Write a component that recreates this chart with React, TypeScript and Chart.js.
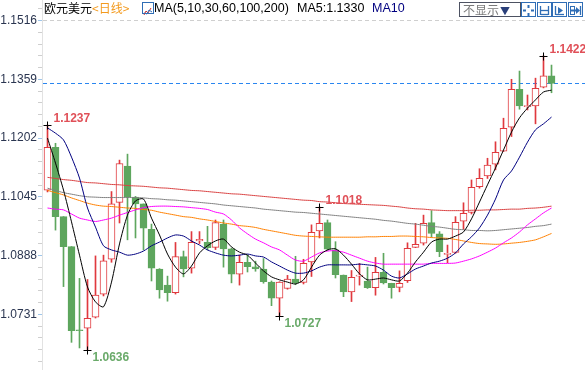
import React, { useEffect, useRef } from 'react';
import { Chart, registerables } from 'chart.js';

Chart.register(...registerables);

const opens = [1.1063,1.1177,1.0992,1.0912,1.0688,1.0694,1.0723,1.0785,1.0878,1.1030,1.1127,1.1044,1.1026,1.0958,1.0852,1.0809,1.0789,1.0885,1.0854,1.0927,1.0923,1.0910,1.0972,1.0906,1.0838,1.0870,1.0858,1.0852,1.0817,1.0774,1.0800,1.0825,1.0816,1.0871,1.0954,1.0976,1.0903,1.0836,1.0791,1.0833,1.0820,1.0802,1.0843,1.0814,1.0803,1.0821,1.0910,1.0921,1.0976,1.0946,1.0891,1.0896,1.0980,1.1003,1.1072,1.1101,1.1132,1.1167,1.1231,1.1332,1.1286,1.1288,1.1338,1.1368];
const highs = [1.1237,1.1188,1.0992,1.0912,1.0827,1.0824,1.0887,1.0889,1.1059,1.1143,1.1159,1.1046,1.1026,1.0972,1.0853,1.0833,1.0923,1.0900,1.0952,1.0952,1.0966,1.0983,1.0983,1.0908,1.0889,1.0889,1.0873,1.0880,1.0820,1.0818,1.0835,1.0886,1.0878,1.0970,1.1018,1.0983,1.0925,1.0836,1.0848,1.0867,1.0857,1.0883,1.0894,1.0814,1.0847,1.0922,1.0974,1.0996,1.1008,1.0952,1.0916,1.0992,1.1029,1.1090,1.1120,1.1148,1.1192,1.1255,1.1359,1.1381,1.1317,1.1362,1.1422,1.1397];
const lows = [1.1058,1.0956,1.0805,1.0656,1.0641,1.0636,1.0721,1.0780,1.0870,1.0975,1.0930,1.0935,1.0903,1.0820,1.0774,1.0766,1.0785,1.0831,1.0841,1.0920,1.0903,1.0904,1.0857,1.0815,1.0809,1.0844,1.0846,1.0814,1.0754,1.0727,1.0798,1.0810,1.0812,1.0832,1.0935,1.0902,1.0828,1.0778,1.0765,1.0809,1.0800,1.0782,1.0812,1.0774,1.0791,1.0816,1.0909,1.0916,1.0937,1.0885,1.0869,1.0894,1.0958,1.0999,1.1068,1.1094,1.1117,1.1166,1.1206,1.1279,1.1277,1.1240,1.1336,1.1323];
const closes = [1.1177,1.0992,1.0912,1.0687,1.0687,1.0720,1.0782,1.0874,1.1026,1.1134,1.1044,1.1026,1.0961,1.0854,1.0796,1.0789,1.0885,1.0852,1.0923,1.0931,1.0909,1.0976,1.0906,1.0838,1.0870,1.0858,1.0852,1.0818,1.0774,1.0817,1.0825,1.0815,1.0867,1.0950,1.0974,1.0905,1.0837,1.0791,1.0830,1.0834,1.0802,1.0843,1.0815,1.0802,1.0814,1.0907,1.0918,1.0974,1.0947,1.0898,1.0894,1.0977,1.1001,1.1070,1.1094,1.1130,1.1164,1.1228,1.1332,1.1288,1.1288,1.1335,1.1368,1.1348];

const ma5 = [1.1202,1.1135,1.1063,1.0978,1.0889,1.0804,1.0764,1.0751,1.0817,1.0919,1.0996,1.1034,1.1039,1.0988,1.0943,1.0892,1.0857,1.0839,1.0860,1.0895,1.0914,1.0927,1.0932,1.0911,1.0897,1.0889,1.0868,1.0847,1.0831,1.0823,1.0817,1.0812,1.0823,1.0857,1.0889,1.0903,1.0906,1.0889,1.0865,1.0839,1.0823,1.0825,1.0828,1.0823,1.0820,1.0841,1.0871,1.0897,1.0924,1.0932,1.0932,1.0940,1.0951,1.0986,1.1031,1.1077,1.1122,1.1170,1.1218,1.1256,1.1282,1.1304,1.1325,1.1330];
const ma10 = [1.1229,1.1215,1.1197,1.1151,1.1095,1.1015,1.0964,1.0914,1.0903,1.0897,1.0889,1.0892,1.0900,1.0914,1.0924,1.0935,1.0943,1.0940,1.0927,1.0916,1.0903,1.0895,1.0889,1.0887,1.0889,1.0892,1.0887,1.0884,1.0871,1.0860,1.0849,1.0841,1.0841,1.0847,1.0857,1.0863,1.0863,1.0863,1.0863,1.0865,1.0863,1.0860,1.0849,1.0833,1.0828,1.0839,1.0852,1.0860,1.0868,1.0873,1.0881,1.0895,1.0919,1.0938,1.0962,1.0996,1.1039,1.1090,1.1114,1.1151,1.1191,1.1224,1.1240,1.1258];
const ma30 = [1.1015,1.1012,1.1010,1.0999,1.0988,1.0983,1.0979,1.0983,1.0988,1.0996,1.1003,1.1010,1.1016,1.1019,1.1020,1.1020,1.1019,1.1018,1.1016,1.1014,1.1011,1.1004,1.0999,1.0983,1.0962,1.0946,1.0932,1.0922,1.0911,1.0903,1.0889,1.0876,1.0873,1.0884,1.0895,1.0900,1.0901,1.0897,1.0889,1.0881,1.0873,1.0868,1.0865,1.0865,1.0865,1.0865,1.0865,1.0865,1.0867,1.0867,1.0867,1.0868,1.0873,1.0879,1.0887,1.0897,1.0908,1.0922,1.0935,1.0951,1.0970,1.0986,1.1002,1.1015];
const ma60 = [1.1062,1.1056,1.1050,1.1042,1.1035,1.1028,1.1023,1.1020,1.1019,1.1017,1.1015,1.1014,1.1011,1.1009,1.1004,1.1000,1.0996,1.0992,1.0990,1.0986,1.0983,1.0979,1.0975,1.0972,1.0968,1.0966,1.0963,1.0958,1.0954,1.0950,1.0946,1.0942,1.0940,1.0939,1.0938,1.0937,1.0937,1.0937,1.0937,1.0937,1.0938,1.0938,1.0939,1.0939,1.0940,1.0940,1.0939,1.0938,1.0936,1.0935,1.0934,1.0931,1.0927,1.0923,1.0920,1.0919,1.0918,1.0919,1.0921,1.0923,1.0926,1.0930,1.0938,1.0947];
const ma100 = [1.1068,1.1062,1.1056,1.1052,1.1048,1.1045,1.1044,1.1043,1.1043,1.1043,1.1043,1.1043,1.1042,1.1040,1.1039,1.1037,1.1036,1.1034,1.1032,1.1030,1.1028,1.1026,1.1023,1.1021,1.1019,1.1017,1.1015,1.1012,1.1010,1.1008,1.1006,1.1004,1.1003,1.1001,1.0999,1.0997,1.0995,1.0993,1.0991,1.0989,1.0987,1.0985,1.0982,1.0980,1.0977,1.0974,1.0972,1.0969,1.0966,1.0964,1.0961,1.0958,1.0957,1.0955,1.0955,1.0954,1.0955,1.0957,1.0959,1.0961,1.0963,1.0966,1.0968,1.0972];
const ma200 = [1.1097,1.1094,1.1091,1.1089,1.1086,1.1083,1.1082,1.1080,1.1078,1.1077,1.1075,1.1074,1.1073,1.1071,1.1069,1.1068,1.1066,1.1064,1.1062,1.1061,1.1059,1.1057,1.1055,1.1053,1.1052,1.1050,1.1048,1.1046,1.1044,1.1042,1.1040,1.1038,1.1036,1.1035,1.1032,1.1031,1.1029,1.1027,1.1026,1.1025,1.1024,1.1023,1.1022,1.1020,1.1018,1.1015,1.1013,1.1012,1.1010,1.1009,1.1008,1.1008,1.1008,1.1009,1.1009,1.1010,1.1010,1.1011,1.1012,1.1012,1.1014,1.1015,1.1017,1.1020];

const yMajorTicks = [1.1516, 1.1359, 1.1202, 1.1045, 1.0888, 1.0731];
const highMarkers = [0, 34, 62];
const lowMarkers = [5, 29];

const RED = '#e0393e';
const GREEN = '#5ea65e';

const maSeries = [
  { label: 'MA5', data: ma5, color: '#000000' },
  { label: 'MA10', data: ma10, color: '#000080' },
  { label: 'MA30', data: ma30, color: '#ff00ff' },
  { label: 'MA60', data: ma60, color: '#ff8000' },
  { label: 'MA100', data: ma100, color: '#808080' },
  { label: 'MA200', data: ma200, color: '#d94040' },
];

const isMajor = (v: number) => yMajorTicks.some((m) => Math.abs(m - v) < 1e-6);

const overlayPlugin = {
  id: 'overlay',
  beforeDatasetsDraw(chart: any) {
    const { ctx, chartArea, scales } = chart;
    const y = scales.y;
    const yp = Math.round(y.getPixelForValue(closes[closes.length - 1])) + 0.5;
    ctx.save();
    ctx.strokeStyle = '#2a86f0';
    ctx.lineWidth = 1;
    ctx.setLineDash([4, 3]);
    ctx.beginPath();
    ctx.moveTo(chartArea.left + 1, yp);
    ctx.lineTo(chartArea.right, yp);
    ctx.stroke();
    ctx.restore();
  },
  afterDatasetsDraw(chart: any) {
    const { ctx, scales } = chart;
    const xs = scales.x;
    const ys = scales.y;
    ctx.save();
    ctx.font = 'bold 12px "Liberation Sans", Arial, sans-serif';
    ctx.lineWidth = 1;
    const cross = (px: number, py: number) => {
      ctx.strokeStyle = '#000';
      ctx.beginPath();
      ctx.moveTo(px - 4, py + 0.5);
      ctx.lineTo(px + 4, py + 0.5);
      ctx.moveTo(px, py - 3.5);
      ctx.lineTo(px, py + 4.5);
      ctx.stroke();
    };
    highMarkers.forEach((i) => {
      const px = xs.getPixelForValue(i);
      const py = Math.round(ys.getPixelForValue(highs[i]));
      cross(px, py);
      ctx.fillStyle = '#e05058';
      ctx.textBaseline = 'alphabetic';
      ctx.textAlign = 'left';
      ctx.fillText(highs[i].toFixed(4), px + 6, py - 3);
    });
    lowMarkers.forEach((i) => {
      const px = xs.getPixelForValue(i);
      const py = Math.round(ys.getPixelForValue(lows[i]));
      cross(px, py);
      ctx.fillStyle = '#6aaa6a';
      ctx.textBaseline = 'top';
      ctx.textAlign = 'left';
      ctx.fillText(lows[i].toFixed(4), px + 5, py + 2);
    });
    ctx.restore();
  },
};

function Icon({ kind }: { kind: number }) {
  const c = '#2f6db5';
  return (
    <div
      style={{
        position: 'absolute',
        top: 2,
        left: [521, 537, 552, 568][kind],
        width: 13,
        height: 13,
        border: `1px solid ${c}`,
        background: '#fff',
      }}
    >
      <svg width="13" height="13" viewBox="0 0 13 13">
        {kind === 0 && (
          <g fill={c}>
            <rect x="5.5" y="1" width="2" height="3" />
            <rect x="5.5" y="9" width="2" height="3" />
            <rect x="1" y="5.5" width="3" height="2" />
            <rect x="9" y="5.5" width="3" height="2" />
          </g>
        )}
        {kind === 1 && (
          <g stroke={c} fill="none" strokeWidth="1.3">
            <line x1="2.5" y1="2" x2="2.5" y2="11" />
            <line x1="10.5" y1="2" x2="10.5" y2="11" />
            <line x1="3" y1="6.5" x2="10" y2="6.5" />
            <line x1="3" y1="10.5" x2="10" y2="10.5" />
          </g>
        )}
        {kind === 2 && (
          <g fill={c} stroke={c}>
            <line x1="2.5" y1="2" x2="2.5" y2="11" strokeWidth="1.3" />
            <polygon points="5,3 10,6.5 5,10" stroke="none" />
            <line x1="3" y1="10.5" x2="11" y2="10.5" strokeWidth="1.3" />
          </g>
        )}
        {kind === 3 && (
          <g fill={c} stroke={c}>
            <line x1="2" y1="6.5" x2="8" y2="6.5" strokeWidth="2" />
            <polygon points="7,3 11,6.5 7,10" stroke="none" />
            <line x1="11.5" y1="2" x2="11.5" y2="11" strokeWidth="1.3" />
            <rect x="1.5" y="2.5" width="4" height="8" fill="none" strokeWidth="1" />
          </g>
        )}
      </svg>
    </div>
  );
}

export default function App() {
  const canvasRef = useRef<HTMLCanvasElement | null>(null);

  useEffect(() => {
    const canvas = canvasRef.current;
    if (!canvas) return;
    const idx = closes.map((_, i) => i);
    const up = (i: number) => closes[i] >= opens[i];

    const lineSets = maSeries.map((s) => ({
      type: 'line' as const,
      label: s.label,
      data: s.data.map((v, i) => ({ x: i, y: v })),
      borderColor: s.color,
      backgroundColor: s.color,
      borderWidth: 1,
      pointRadius: 0,
      tension: 0.25,
      fill: false,
      order: 0,
    }));

    const chart = new Chart(canvas, {
      type: 'bar',
      data: {
        datasets: [
          ...lineSets,
          {
            type: 'bar',
            label: 'body',
            data: idx.map((i) => ({ x: i, y: [opens[i], closes[i]] })),
            backgroundColor: idx.map((i) => (up(i) ? '#ffffff' : GREEN)),
            borderColor: idx.map((i) => (up(i) ? RED : GREEN)),
            borderWidth: 1,
            borderSkipped: false,
            barThickness: 7,
            grouped: false,
            minBarLength: 1,
            order: 1,
          },
          {
            type: 'bar',
            label: 'wick',
            data: idx.map((i) => ({ x: i, y: [lows[i], highs[i]] })),
            backgroundColor: idx.map((i) => (up(i) ? RED : GREEN)),
            borderWidth: 0,
            barThickness: 1,
            grouped: false,
            order: 2,
          },
        ] as any,
      },
      options: {
        responsive: false,
        animation: false,
        events: [],
        layout: { padding: 0 },
        plugins: {
          legend: { display: false },
          tooltip: { enabled: false },
          title: { display: false },
        },
        scales: {
          x: {
            type: 'linear',
            display: false,
            min: -0.6875,
            max: 67.1875,
            offset: false,
          },
          y: {
            type: 'linear',
            position: 'left',
            min: 1.05821,
            max: 1.15709,
            afterBuildTicks: (scale: any) => {
              const step = (yMajorTicks[0] - yMajorTicks[1]) / 5;
              const t: { value: number }[] = [];
              for (let k = -3; k < 40; k++) {
                const v = yMajorTicks[0] - k * step;
                if (v <= scale.max && v >= scale.min) t.push({ value: v });
              }
              scale.ticks = t;
            },
            afterFit: (scale: any) => {
              scale.width = 42;
              scale.paddingTop = 0;
              scale.paddingBottom = 0;
            },
            ticks: {
              autoSkip: false,
              padding: 1,
              color: '#2a3550',
              font: { family: '"Liberation Sans", Arial, sans-serif', size: 12 },
              callback: (value: any) => (isMajor(Number(value)) ? Number(value).toFixed(4) : ''),
            },
            grid: {
              drawOnChartArea: true,
              drawTicks: true,
              tickLength: 4,
              lineWidth: 1,
              color: (ctx: any) =>
                ctx.tick && Math.abs(ctx.tick.value - yMajorTicks[0]) < 1e-6 ? '#cfcfcf' : 'rgba(0,0,0,0)',
              tickColor: (ctx: any) => (ctx.tick && isMajor(ctx.tick.value) ? '#9fc6ea' : '#cfcfcf'),
            },
            border: { display: true, color: '#e2e2e2', width: 1, dash: [4, 3] },
          },
        },
      } as any,
      plugins: [overlayPlugin],
    });

    return () => chart.destroy();
  }, []);

  const latin = '"Liberation Sans", Arial, sans-serif';
  const cjk = '"Noto Sans CJK SC", sans-serif';

  return (
    <div
      style={{
        position: 'fixed',
        left: 0,
        top: 0,
        width: 585,
        height: 370,
        background: '#ffffff',
        overflow: 'hidden',
      }}
    >
      <canvas ref={canvasRef} width={585} height={370} style={{ position: 'absolute', left: 0, top: 0 }} />
      <div style={{ position: 'absolute', left: 44, top: 0, height: 16, lineHeight: '16px', fontSize: 12, fontFamily: cjk, whiteSpace: 'nowrap', color: '#000' }}>
        欧元美元<span style={{ color: '#f39a1e' }}>&lt;日线&gt;</span>
      </div>
      <div style={{ position: 'absolute', left: 142, top: 2, width: 10, height: 10, border: '1px solid #2f6db5', background: '#fff' }}>
        <svg width="10" height="10" viewBox="0 0 10 10">
          <polyline points="1,8 3,4 5,6 8,1" fill="none" stroke="#d03030" strokeWidth="1" />
          <polyline points="1,6 4,7 6,3 9,5" fill="none" stroke="#2f6db5" strokeWidth="1" />
        </svg>
      </div>
      <div style={{ position: 'absolute', left: 154, top: 0, height: 16, lineHeight: '16px', fontSize: 12.5, fontFamily: latin, whiteSpace: 'nowrap', color: '#000' }}>
        MA(5,10,30,60,100,200)
      </div>
      <div style={{ position: 'absolute', left: 297, top: 0, height: 16, lineHeight: '16px', fontSize: 12.5, fontFamily: latin, whiteSpace: 'nowrap', color: '#000' }}>
        MA5:1.1330
      </div>
      <div style={{ position: 'absolute', left: 372, top: 0, height: 16, lineHeight: '16px', fontSize: 12.5, fontFamily: latin, whiteSpace: 'nowrap', color: '#000080' }}>
        MA10
      </div>
      <div
        style={{
          position: 'absolute',
          left: 459,
          top: 2,
          width: 57,
          height: 13,
          border: '1px solid #4d5262',
          background: '#fff',
          fontFamily: cjk,
          fontSize: 12,
          lineHeight: '13px',
          color: '#7a7a7a',
          paddingLeft: 3,
          boxSizing: 'content-box',
          whiteSpace: 'nowrap',
        }}
      >
        不显示<span style={{ color: '#2a3f7a', fontSize: 10, marginLeft: 1 }}>▼</span>
      </div>
      <Icon kind={0} />
      <Icon kind={1} />
      <Icon kind={2} />
      <Icon kind={3} />
    </div>
  );
}
